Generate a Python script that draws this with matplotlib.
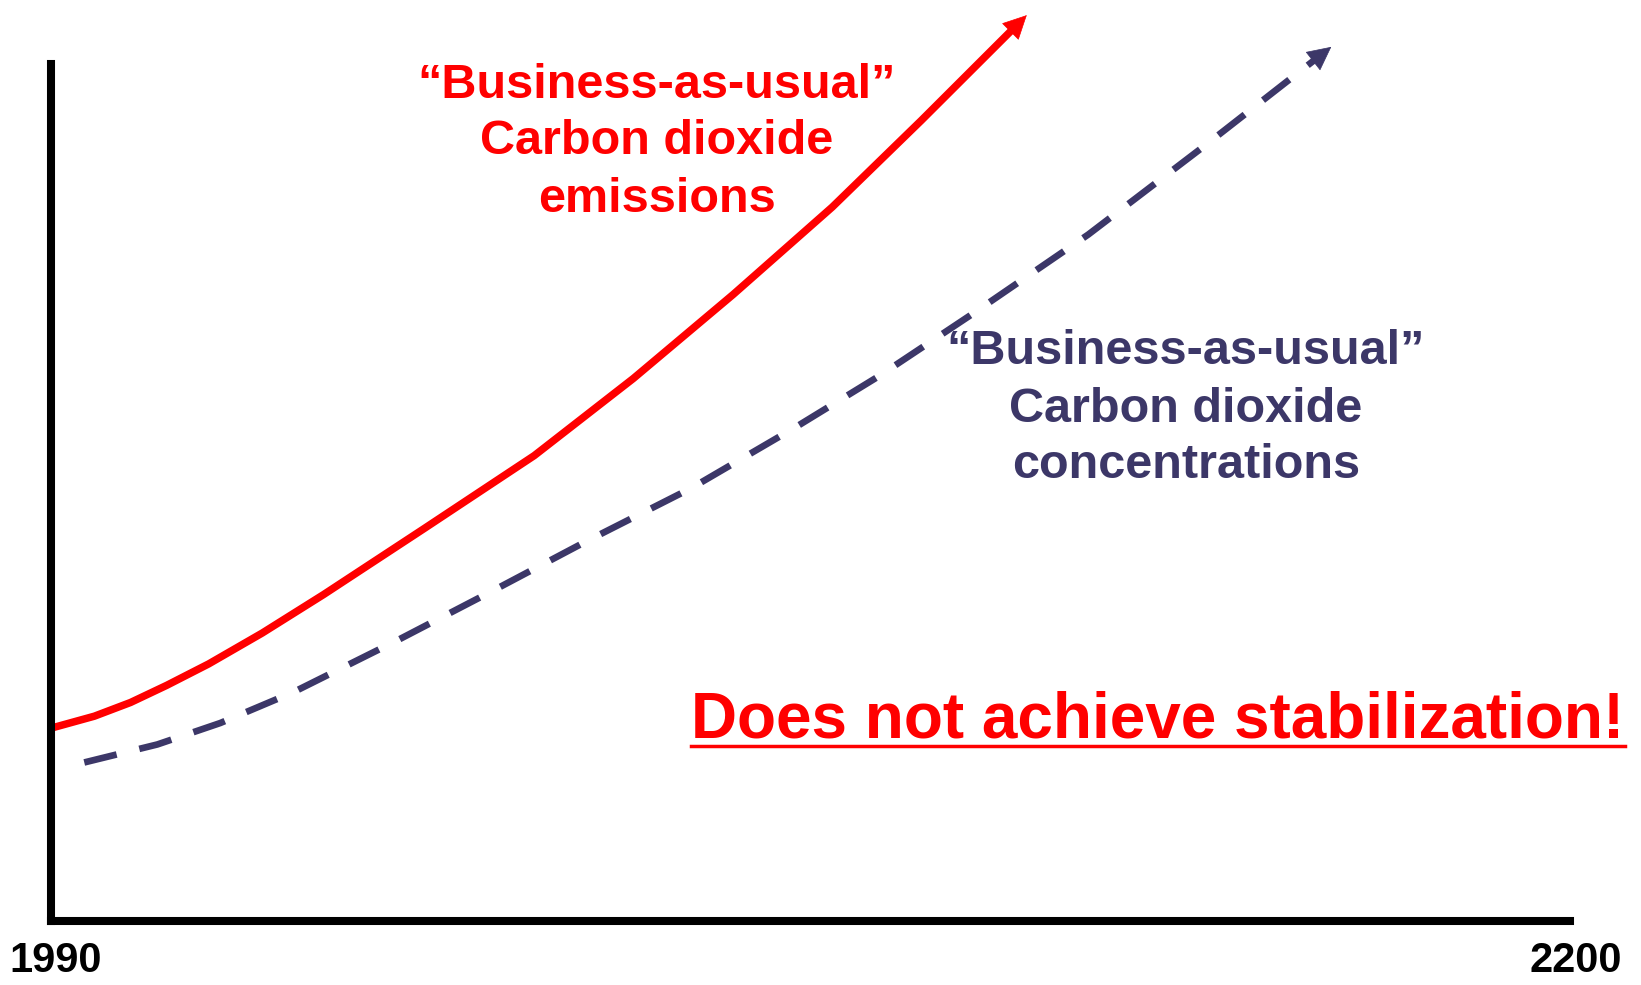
import matplotlib
matplotlib.use("Agg")
import matplotlib.pyplot as plt
from matplotlib.lines import Line2D

plt.rcParams['font.family'] = ['Liberation Sans', 'DejaVu Sans']

# emissions curve (years, arbitrary units)
emis_years = [1990, 1996, 2001, 2006, 2011.8, 2019.2, 2027.7, 2041.6, 2056.8,
              2070.5, 2084.3, 2098.0, 2110.3, 2124.9]
emis_vals = [22.5, 23.9, 25.5, 27.5, 30.0, 33.6, 38.1, 45.8, 54.3,
             63.3, 73.1, 83.3, 93.4, 105.7]

# concentrations curve
conc_years = [1994.6, 2004.7, 2013.4, 2023.5, 2038.0, 2051.0, 2064.0, 2078.5,
              2092.9, 2104.5, 2117.5, 2133.4, 2149.4, 2167.0]
conc_vals = [18.5, 20.6, 23.1, 26.7, 32.8, 38.5, 44.3, 50.5,
             57.6, 63.6, 70.9, 80.1, 90.4, 102.0]

year_labels = ['1990', '2200']
emis_label = ['\u201cBusiness-as-usual\u201d', 'Carbon dioxide', 'emissions']
conc_label = ['\u201cBusiness-as-usual\u201d', 'Carbon dioxide', 'concentrations']
warning = 'Does not achieve stabilization!'

RED = '#FF0000'
NAVY = '#3C3768'
W, H = 1641, 985

fig = plt.figure(figsize=(W / 100, H / 100), dpi=100)
ax = fig.add_axes([51 / W, 64 / H, 1519 / W, 857 / H])
ax.set_xlim(1990, 2200)
ax.set_ylim(0, 100)
for s in ['top', 'right']:
    ax.spines[s].set_visible(False)
for s in ['left', 'bottom']:
    ax.spines[s].set_linewidth(5.8)
    ax.spines[s].set_color('black')
ax.set_xticks([])
ax.set_yticks([])


def end_point(xs, ys, frac):
    # point part way along the last segment, so the line stops under the arrowhead
    return xs[-2] + frac * (xs[-1] - xs[-2]), ys[-2] + frac * (ys[-1] - ys[-2])


# red solid emissions line
ex, ey = end_point(emis_years, emis_vals, 0.9)
ax.plot(emis_years[:-1] + [ex], emis_vals[:-1] + [ey], color=RED, lw=5.4,
        solid_capstyle='butt', clip_on=False)
ax.annotate('', xy=(emis_years[-1], emis_vals[-1]), xytext=(ex, ey),
            arrowprops=dict(arrowstyle='-|>', color=RED, lw=0.5,
                            mutation_scale=40, shrinkA=0, shrinkB=0),
            annotation_clip=False)

# dashed concentrations line
cx, cy = end_point(conc_years, conc_vals, 0.92)
ax.plot(conc_years[:-1] + [cx], conc_vals[:-1] + [cy], color=NAVY, lw=4.8,
        dashes=(5.0, 3.5), dash_capstyle='butt', clip_on=False)
ax.annotate('', xy=(conc_years[-1], conc_vals[-1]), xytext=(cx, cy),
            arrowprops=dict(arrowstyle='-|>', color=NAVY, lw=0.5,
                            mutation_scale=40, shrinkA=0, shrinkB=0),
            annotation_clip=False)


def px_text(x, y, s, va='center', **kw):
    return fig.text(x / W, 1 - y / H, s, ha='center', va=va,
                    fontweight='bold', **kw)


for i, line in enumerate(emis_label):
    px_text(657, 85 + 57 * i, line, color=RED, fontsize=35)
for i, line in enumerate(conc_label):
    px_text(1186, 352 + 57 * i, line, color=NAVY, fontsize=35)

px_text(56, 972, year_labels[0], va='baseline', color='black', fontsize=30)
px_text(1576, 972, year_labels[1], va='baseline', color='black', fontsize=30)

warn = px_text(1158, 720, warning, color=RED, fontsize=46)
fig.canvas.draw()
bb = warn.get_window_extent()
fig.add_artist(Line2D([bb.x0 / W, bb.x1 / W], [1 - 746 / H, 1 - 746 / H],
                      color=RED, lw=2.5, transform=fig.transFigure))

fig.savefig('out.png', dpi=100)
